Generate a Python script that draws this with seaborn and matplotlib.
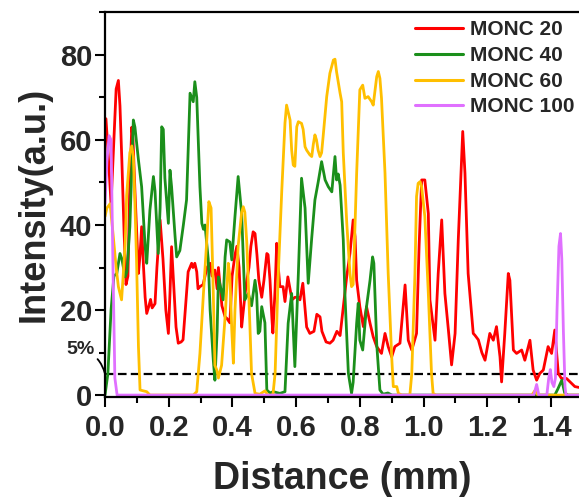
import matplotlib
matplotlib.use("Agg")
import matplotlib.pyplot as plt
from matplotlib.ticker import MultipleLocator
import numpy as np
import pandas as pd
import seaborn as sns

# Intensity profiles along the scan line, (distance in mm, intensity in a.u.)
monc20 = [
    (0.003, 65), (0.009, 58), (0.019, 45), (0.028, 60), (0.035, 72), (0.042, 74), (0.047, 68),
    (0.053, 55), (0.060, 38), (0.066, 26), (0.072, 28), (0.078, 50), (0.084, 63), (0.088, 60),
    (0.094, 48), (0.099, 39), (0.105, 28.6), (0.110, 33), (0.115, 39.6), (0.121, 30), (0.126, 23),
    (0.131, 19.2), (0.138, 21), (0.143, 22.5), (0.148, 20.5), (0.157, 21.5), (0.163, 30),
    (0.173, 41.2), (0.182, 32), (0.191, 20), (0.199, 14.5), (0.204, 24), (0.209, 34.9), (0.217, 24),
    (0.223, 16), (0.230, 12.2), (0.239, 12.5), (0.245, 13), (0.254, 22), (0.261, 29), (0.272, 31),
    (0.276, 30), (0.282, 31), (0.288, 29), (0.292, 25), (0.298, 25.5), (0.308, 26), (0.320, 30),
    (0.330, 31), (0.336, 28), (0.345, 29.4), (0.352, 25), (0.356, 30), (0.361, 26), (0.367, 21),
    (0.377, 18.4), (0.383, 18), (0.392, 17), (0.399, 28), (0.408, 33), (0.414, 35), (0.421, 30),
    (0.429, 16), (0.433, 19), (0.443, 26), (0.452, 30), (0.458, 35), (0.465, 38.4), (0.471, 38),
    (0.477, 33), (0.483, 27), (0.492, 23), (0.499, 27), (0.508, 33.3), (0.512, 33), (0.518, 27),
    (0.524, 18), (0.527, 14.6), (0.534, 25), (0.539, 35.7), (0.543, 31), (0.549, 25.5),
    (0.559, 25.5), (0.565, 22), (0.574, 27.8), (0.587, 22.4), (0.596, 23), (0.606, 23),
    (0.612, 22.4), (0.621, 26.3), (0.633, 16), (0.643, 14.5), (0.656, 15), (0.665, 19),
    (0.675, 18.4), (0.681, 15), (0.694, 12.5), (0.706, 12.2), (0.716, 12.9), (0.728, 15),
    (0.738, 14), (0.747, 20), (0.759, 28), (0.769, 33.3), (0.779, 41.2), (0.785, 37.3), (0.790, 27),
    (0.800, 20.8), (0.811, 16.1), (0.821, 20.8), (0.832, 16.9), (0.842, 13.7), (0.853, 11.4),
    (0.868, 9.8), (0.879, 14.5), (0.889, 11.4), (0.900, 9), (0.910, 11.4), (0.926, 12.2),
    (0.942, 25.9), (0.952, 12.9), (0.963, 10.6), (0.978, 14.5), (0.986, 35), (0.994, 50.6),
    (1.004, 50.6), (1.015, 42.7), (1.020, 22.4), (1.036, 12.9), (1.046, 28.6), (1.057, 41.2),
    (1.067, 23.9), (1.078, 15.3), (1.088, 7.1), (1.099, 14.5), (1.109, 36.5), (1.123, 62),
    (1.130, 52.2), (1.140, 28.6), (1.156, 14.5), (1.161, 14.1), (1.172, 13), (1.183, 10),
    (1.193, 8.2), (1.208, 14.5), (1.219, 12.9), (1.229, 16.1), (1.240, 9), (1.245, 3.1),
    (1.255, 14.5), (1.266, 28.6), (1.271, 27), (1.282, 10.6), (1.292, 9.8), (1.308, 10.6),
    (1.318, 8.2), (1.334, 12.9), (1.344, 5.9), (1.355, 3.5), (1.365, 5.1), (1.376, 5.9),
    (1.391, 11.4), (1.402, 9.8), (1.412, 15.3), (1.423, 5.1), (1.433, 3.9), (1.449, 3.9),
    (1.460, 3.1), (1.475, 2), (1.488, 1.8),
]

monc40 = [
    (0.000, 0), (0.009, 5), (0.019, 20), (0.028, 28), (0.037, 28.6), (0.047, 33.3), (0.053, 32),
    (0.063, 27.8), (0.069, 29), (0.078, 39.6), (0.089, 64.7), (0.094, 63), (0.105, 55.3),
    (0.115, 49), (0.126, 34.9), (0.131, 31), (0.141, 43.5), (0.152, 51.4), (0.157, 48),
    (0.167, 33.3), (0.173, 44), (0.178, 63.1), (0.183, 62.5), (0.188, 51), (0.199, 40.4),
    (0.204, 52.9), (0.209, 49), (0.220, 37.3), (0.225, 32.5), (0.235, 34), (0.246, 40),
    (0.256, 45.9), (0.267, 71), (0.277, 69), (0.282, 73.7), (0.288, 70), (0.298, 49),
    (0.304, 40.4), (0.309, 39), (0.314, 40), (0.324, 32), (0.330, 20), (0.340, 8.2), (0.345, 3.5),
    (0.352, 15), (0.356, 27.8), (0.361, 26), (0.371, 22.4), (0.377, 32.5), (0.382, 36.5),
    (0.392, 36), (0.398, 31.8), (0.408, 42), (0.418, 51.4), (0.429, 42.7), (0.439, 22.4),
    (0.450, 23.9), (0.460, 21), (0.471, 27), (0.476, 23.9), (0.481, 14.5), (0.486, 15),
    (0.492, 20.8), (0.502, 17), (0.508, 1.2), (0.518, 0.5), (0.528, 0.8), (0.549, 0.4),
    (0.565, 0.8), (0.575, 16.9), (0.586, 23.9), (0.596, 6.7), (0.607, 28.6), (0.617, 51),
    (0.628, 44), (0.638, 26.3), (0.649, 37), (0.659, 45.9), (0.669, 50), (0.680, 54.9),
    (0.691, 50.6), (0.701, 49), (0.712, 47.8), (0.722, 56.1), (0.727, 50.6), (0.732, 52),
    (0.738, 49.4), (0.748, 36.5), (0.753, 24), (0.764, 5.1), (0.774, 0.4), (0.779, 3),
    (0.790, 16.9), (0.795, 21.6), (0.800, 12.9), (0.809, 10.6), (0.821, 20.8), (0.832, 27),
    (0.840, 32.5), (0.844, 31), (0.853, 12), (0.863, 1.2), (0.873, 0.2), (0.888, 0.5),
    (0.901, 0), (1.412, 0), (1.422, 1.5), (1.434, 3.5), (1.443, 0.5), (1.453, 0), (1.488, 0),
]

monc60 = [
    (0.000, 42), (0.006, 44), (0.016, 45), (0.026, 37.3), (0.035, 30), (0.042, 25.5),
    (0.052, 22.4), (0.057, 28), (0.063, 35), (0.068, 47), (0.078, 57), (0.084, 58.6),
    (0.089, 56), (0.094, 45), (0.099, 31.8), (0.105, 11.4), (0.110, 1.2), (0.120, 1),
    (0.131, 0.8), (0.141, 0), (0.277, 0), (0.288, 0.8), (0.298, 9.8), (0.309, 23.9),
    (0.319, 35.7), (0.326, 45.5), (0.333, 44), (0.340, 23.9), (0.345, 7), (0.351, 5.9),
    (0.356, 4), (0.366, 7), (0.377, 18.4), (0.387, 31), (0.392, 28), (0.398, 15.3), (0.403, 7.5),
    (0.408, 20), (0.418, 35), (0.429, 43), (0.434, 44.3), (0.439, 43), (0.445, 36), (0.455, 16.1),
    (0.460, 5.1), (0.471, 0.4), (0.486, 0.2), (0.502, 1), (0.512, 0), (0.527, 0), (0.534, 5.1),
    (0.544, 28.6), (0.555, 48.2), (0.565, 64), (0.570, 68.2), (0.581, 64.7), (0.586, 57.6),
    (0.591, 54.1), (0.596, 53.8), (0.602, 63.1), (0.607, 64.3), (0.617, 63.9), (0.622, 62.5),
    (0.628, 58.4), (0.633, 57.6), (0.643, 56.5), (0.649, 56.1), (0.654, 59), (0.659, 61.2),
    (0.664, 60), (0.669, 57.6), (0.675, 56.1), (0.680, 57), (0.685, 61), (0.696, 70.2),
    (0.706, 75.7), (0.717, 78.8), (0.722, 79), (0.727, 76), (0.738, 71), (0.743, 69),
    (0.748, 57), (0.759, 40.4), (0.769, 28.6), (0.774, 25.5), (0.779, 26), (0.790, 52.2),
    (0.800, 71.8), (0.809, 72.9), (0.816, 69.8), (0.826, 70.2), (0.837, 69), (0.842, 68.2),
    (0.853, 74.9), (0.858, 76.1), (0.863, 74.5), (0.868, 69.8), (0.879, 52.2), (0.889, 28.6),
    (0.900, 9), (0.905, 2), (0.916, 2), (0.921, 0.4), (0.932, 0), (0.957, 0), (0.963, 5),
    (0.973, 28.6), (0.978, 46.7), (0.983, 49.8), (0.989, 50.2), (0.994, 49), (1.004, 42),
    (1.015, 23.9), (1.025, 5.1), (1.030, 0.4), (1.039, 0), (1.340, 0), (1.349, 1), (1.359, 0),
    (1.488, 0),
]

monc100 = [
    (0.000, 45), (0.006, 55), (0.013, 61), (0.019, 60), (0.025, 30), (0.031, 4), (0.038, 0),
    (1.346, 0), (1.355, 2.5), (1.362, 0), (1.387, 0), (1.393, 4), (1.398, 6), (1.403, 3),
    (1.409, 2), (1.414, 4), (1.419, 20), (1.425, 35), (1.430, 38), (1.434, 32), (1.439, 15),
    (1.444, 2), (1.447, 0), (1.488, 0),
]

series_names = ["MONC 20", "MONC 40", "MONC 60", "MONC 100"]
series_colors = ["#ff0000", "#1b8f1b", "#ffbf00", "#e070ff"]
threshold = 5
y_ticks = [0, 20, 40, 60, 80]
x_ticks = [0.0, 0.2, 0.4, 0.6, 0.8, 1.0, 1.2, 1.4]

frames = []
for name, pts in zip(series_names, [monc20, monc40, monc60, monc100]):
    xs, ys = zip(*pts)
    frames.append(pd.DataFrame({"Distance": xs, "Intensity": ys, "Sample": name}))
df = pd.concat(frames, ignore_index=True)

sns.set_theme(style="ticks")
plt.rcParams["font.family"] = ["Liberation Sans", "DejaVu Sans"]
plt.rcParams["font.weight"] = "bold"
plt.rcParams["axes.labelweight"] = "bold"

fig = plt.figure(figsize=(5.79, 4.99), dpi=100)
ax = fig.add_axes([105 / 579, 1 - 397 / 499, 1 - 105 / 579, 385 / 499])

sns.lineplot(
    data=df, x="Distance", y="Intensity", hue="Sample",
    hue_order=series_names, palette=dict(zip(series_names, series_colors)),
    estimator=None, sort=False, linewidth=2.0, ax=ax,
)

ax.axhline(threshold, color="black", linestyle=(0, (3.9, 1.9)), linewidth=1.6, zorder=1.5)
ax.annotate(
    "5%", xy=(0, threshold), xytext=(-0.078, 10.8), textcoords="data",
    fontsize=14, fontweight="bold", ha="center", va="center",
    annotation_clip=False,
    arrowprops=dict(arrowstyle="-", color="black", lw=1.3,
                    connectionstyle="arc3,rad=-0.3", shrinkA=0, shrinkB=0),
)

ax.set_xlim(0, 1.488)
ax.set_ylim(-0.45, 90.1)
ax.set_xticks(x_ticks)
ax.set_xticklabels([f"{v:.1f}" for v in x_ticks])
ax.set_yticks(y_ticks)
ax.xaxis.set_minor_locator(MultipleLocator(0.1))
ax.yaxis.set_minor_locator(MultipleLocator(10))

for side in ["left", "bottom", "top"]:
    ax.spines[side].set_linewidth(1.6)
    ax.spines[side].set_color("black")
ax.spines["right"].set_visible(False)

ax.tick_params(axis="both", which="major", direction="out", length=7, width=1.5,
               labelsize=21, color="black")
ax.tick_params(axis="both", which="minor", direction="out", length=4, width=1.5, color="black")
ax.tick_params(axis="x", which="major", pad=5)
ax.tick_params(axis="y", which="major", pad=2)
for lab in ax.get_xticklabels() + ax.get_yticklabels():
    lab.set_fontweight("bold")

ax.set_xlabel("Distance (mm)", fontsize=27, fontweight="bold", labelpad=14)
ax.set_ylabel("Intensity(a.u.)", fontsize=26, fontweight="bold", labelpad=6)

handles, labels = ax.get_legend_handles_labels()
leg = ax.legend(
    handles, labels, loc="upper left", bbox_to_anchor=(0.655, 0.978),
    frameon=False, handlelength=2.3, handletextpad=0.3,
    labelspacing=0.32, borderpad=0, borderaxespad=0,
    prop={"weight": "bold", "size": 15},
)
for line in leg.get_lines():
    line.set_linewidth(2.2)

fig.savefig("out.png", dpi=100)
